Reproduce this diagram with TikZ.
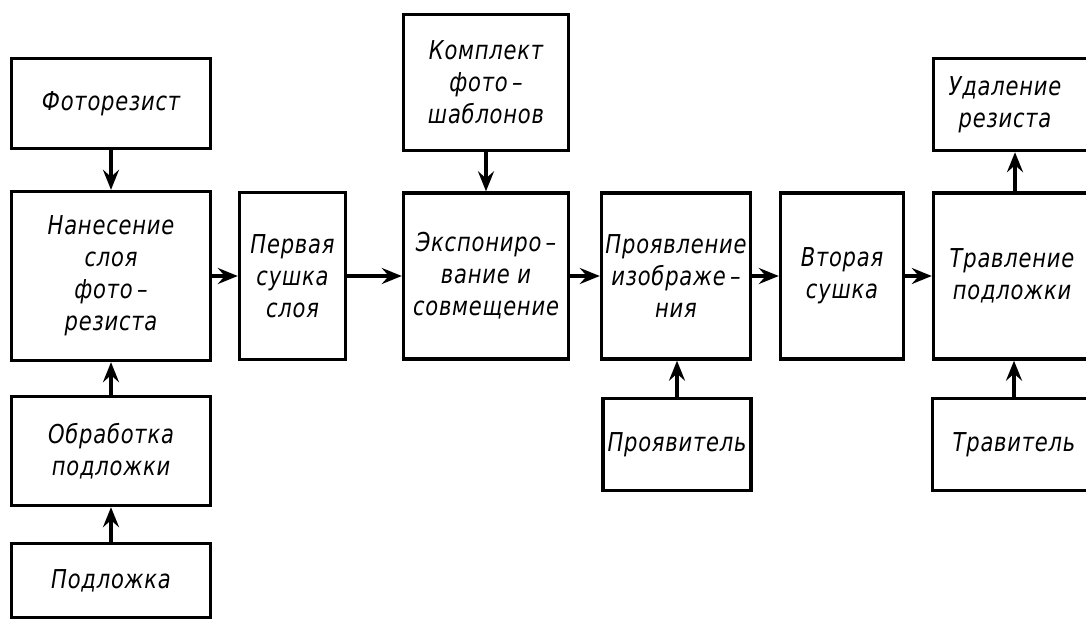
\documentclass[tikz,border=0pt]{standalone}
\usepackage{fontspec}
\setmainfont{DejaVu Sans}[FakeStretch=0.81,LetterSpace=3]
\usetikzlibrary{arrows.meta}
\begin{document}
\begin{tikzpicture}[x=1pt,y=-1pt,
  blk/.style={draw, line width=3.4pt, inner sep=0pt, align=center,
    font=\fontsize{26}{32}\selectfont\itshape},
  arr/.style={line width=3.4pt, -{Stealth[length=20pt,width=16pt,inset=7pt]}}]
\useasboundingbox (0,0) rectangle (1086,621);
\clip (0,0) rectangle (1086,621);
% left column
\node[blk, minimum width=199pt, minimum height=90pt]  (A) at (111,103.5) {Фоторезист};
\node[blk, minimum width=199pt, minimum height=169pt] (B) at (111,276) {Нанесение\\слоя\\фото\,–\\резиста};
\node[blk, minimum width=199pt, minimum height=109pt] (C) at (111,451) {Обработка\\подложки};
\node[blk, minimum width=199pt, minimum height=74pt]  (D) at (111,580.5) {Подложка};
% middle
\node[blk, minimum width=106pt, minimum height=167pt] (E) at (292.5,276) {Первая\\сушка\\слоя};
\node[blk, minimum width=165pt, minimum height=136pt] (F) at (486,82.5) {Комплект\\фото\,–\\шаблонов};
\node[blk, minimum width=165pt, minimum height=166pt] (G) at (486,276) {Экспониро\,–\\вание и\\совмещение};
\node[blk, minimum width=149pt, minimum height=166pt] (H) at (676,276) {Проявление\\изображе\,–\\ния};
\node[blk, minimum width=148pt, minimum height=92pt]  (I) at (677,444.5) {Проявитель};
\node[blk, minimum width=123pt, minimum height=166pt] (J) at (842,276) {Вторая\\сушка};
% right column (cut off by the right edge)
\node[blk, minimum width=163pt, minimum height=92pt, text width=160pt] (K) at (1015,104.5) {\hspace*{-20pt}Удаление\\\hspace*{-20pt}резиста};
\node[blk, minimum width=163pt, minimum height=166pt, text width=160pt] (L) at (1015,276) {\hspace*{-6pt}Травление\\\hspace*{-6pt}подложки};
\node[blk, minimum width=163pt, minimum height=92pt, text width=160pt]  (M) at (1014,444.5) {Травитель};
% arrows
\draw[arr] (A.south) -- (B.north);
\draw[arr] (C.north) -- (B.south);
\draw[arr] (D.north) -- (C.south);
\draw[arr] (B.east) -- (E.west);
\draw[arr] (E.east) -- (G.west);
\draw[arr] (F.south) -- (G.north);
\draw[arr] (G.east) -- (H.west);
\draw[arr] (I.north) -- (I.north |- H.south);
\draw[arr] (H.east) -- (J.west);
\draw[arr] (J.east) -- (L.west);
\draw[arr] (L.north) -- (K.south);
\draw[arr] (M.north) -- (M.north |- L.south);
\end{tikzpicture}
\end{document}
